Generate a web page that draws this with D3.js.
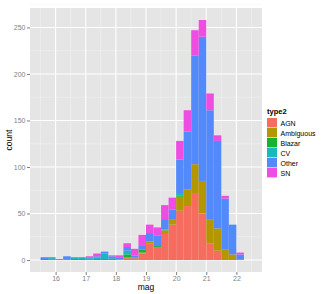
<!DOCTYPE html>
<html>
<head>
<meta charset="utf-8">
<script src="https://cdn.jsdelivr.net/npm/d3@7"></script>
<style>
  body { margin: 0; background: #fff; }
  text { font-family: "Liberation Sans", Arial, sans-serif; }
</style>
</head>
<body>
<div id="chart"></div>
<script>

/// Data

const types = ["AGN", "Ambiguous", "Blazar", "CV", "Other", "SN"];
const colors = ["#F66C5F", "#B39600", "#17B22E", "#18B9BE", "#5289FB", "#EE4DE2"];

// left edge of every 0.25 mag bin
const binStart = [15.5, 15.75, 16, 16.25, 16.5, 16.75, 17, 17.25, 17.5, 17.75,
  18, 18.25, 18.5, 18.75, 19, 19.25, 19.5, 19.75, 20, 20.25,
  20.5, 20.75, 21, 21.25, 21.5, 21.75, 22];
const binWidth = 0.25;

const agn       = [0, 0, 0, 0, 0, 0, 0, 0, 0, 0, 1, 2, 2, 7, 18, 14, 28, 38, 53, 58, 72, 50, 18, 10, 0, 0, 0];
const ambiguous = [0, 0, 0, 0, 0, 0, 0, 0, 0, 0, 0, 1, 0, 1, 2, 0, 4, 6, 15, 18, 31, 35, 26, 24, 11, 6, 1];
const blazar    = [1, 0, 0, 0, 1, 1, 0, 1, 1, 1, 0, 3, 0, 3, 0, 1, 0, 0, 1, 0, 0, 0, 0, 0, 0, 0, 0];
const cv        = [0, 2, 1, 1, 2, 2, 2, 2, 6, 1, 0, 4, 1, 0, 0, 0, 1, 0, 3, 0, 0, 0, 0, 0, 0, 0, 0];
const other     = [2, 1, 0, 3, 0, 0, 1, 1, 2, 2, 2, 4, 2, 5, 9, 11, 11, 10, 36, 62, 117, 155, 117, 94, 55, 32, 5];
const sn        = [0, 0, 0, 0, 0, 0, 1, 3, 0, 1, 2, 4, 7, 11, 9, 9, 15, 13, 20, 23, 27, 18, 18, 6, 3, 0, 2];

const xTicks = [16, 17, 18, 19, 20, 21, 22];
const yTicks = [0, 50, 100, 150, 200, 250];

/// Geometry
var width = 327, height = 294;
var panel = { left: 30, right: 262, top: 8, bottom: 272 };

var svg = d3.select("#chart").append("svg")
  .attr("width", width)
  .attr("height", height);

// table built from the arrays above
var rows = binStart.map(function (s, i) {
  return { x0: s, x1: s + binWidth, AGN: agn[i], Ambiguous: ambiguous[i], Blazar: blazar[i],
           CV: cv[i], Other: other[i], SN: sn[i] };
});
var stacked = d3.stack().keys(types)(rows);

var yMax = d3.max(rows, function (d) { return d3.sum(types, function (k) { return d[k]; }); });
var xMin = 15.5, xMax = 22.5;
var xPad = (xMax - xMin) * 0.05, yPad = yMax * 0.05;

var xScale = d3.scaleLinear().domain([xMin - xPad, xMax + xPad]).range([panel.left, panel.right]);
var yScale = d3.scaleLinear().domain([-yPad, yMax + yPad]).range([panel.bottom, panel.top]);
var colorScale = d3.scaleOrdinal().domain(types).range(colors);

// panel background
svg.append("rect")
  .attr("x", panel.left).attr("y", panel.top)
  .attr("width", panel.right - panel.left).attr("height", panel.bottom - panel.top)
  .attr("fill", "#E5E5E5");

// minor grid
var xMinor = xTicks.map(function (t) { return t - 0.5; }).concat([22.5]);
var yMinor = yTicks.map(function (t) { return t + 25; });
svg.append("g").selectAll("line").data(xMinor).join("line")
  .attr("x1", d => xScale(d)).attr("x2", d => xScale(d))
  .attr("y1", panel.top).attr("y2", panel.bottom)
  .attr("stroke", "#F2F2F2").attr("stroke-width", 0.6);
svg.append("g").selectAll("line").data(yMinor).join("line")
  .attr("y1", d => yScale(d)).attr("y2", d => yScale(d))
  .attr("x1", panel.left).attr("x2", panel.right)
  .attr("stroke", "#F2F2F2").attr("stroke-width", 0.6);

// major grid
svg.append("g").selectAll("line").data(xTicks).join("line")
  .attr("x1", d => xScale(d)).attr("x2", d => xScale(d))
  .attr("y1", panel.top).attr("y2", panel.bottom)
  .attr("stroke", "#fff").attr("stroke-width", 1.1);
svg.append("g").selectAll("line").data(yTicks).join("line")
  .attr("y1", d => yScale(d)).attr("y2", d => yScale(d))
  .attr("x1", panel.left).attr("x2", panel.right)
  .attr("stroke", "#fff").attr("stroke-width", 1.1);

// bars
svg.append("g").selectAll("g").data(stacked).join("g")
  .attr("fill", d => colorScale(d.key))
  .selectAll("rect").data(d => d).join("rect")
  .attr("x", d => xScale(d.data.x0))
  .attr("width", d => xScale(d.data.x1) - xScale(d.data.x0))
  .attr("y", d => yScale(d[1]))
  .attr("height", d => yScale(d[0]) - yScale(d[1]));

// axes
var xAxis = svg.append("g")
  .attr("transform", "translate(0," + panel.bottom + ")")
  .call(d3.axisBottom(xScale).tickValues(xTicks).tickSize(3).tickPadding(1.5));
var yAxis = svg.append("g")
  .attr("transform", "translate(" + panel.left + ",0)")
  .call(d3.axisLeft(yScale).tickValues(yTicks).tickSize(3).tickPadding(1.5));
[xAxis, yAxis].forEach(function (a) {
  a.select(".domain").remove();
  a.selectAll(".tick line").attr("stroke", "#7F7F7F");
  a.selectAll(".tick text").attr("fill", "#7F7F7F").attr("font-size", "7px")
    .attr("font-family", "Liberation Sans, Arial, sans-serif");
});

// axis titles
svg.append("text")
  .attr("x", (panel.left + panel.right) / 2).attr("y", 290)
  .attr("text-anchor", "middle").attr("font-size", "8.5px")
  .text("mag");
svg.append("text")
  .attr("transform", "translate(12," + ((panel.top + panel.bottom) / 2) + "),rotate(-90)")
  .attr("text-anchor", "middle").attr("font-size", "8.5px")
  .text("count");

// legend
var legend = svg.append("g").attr("transform", "translate(267,118)");
legend.append("text")
  .attr("x", 0).attr("y", -4)
  .attr("font-size", "7.5px").attr("font-weight", "bold")
  .text("type2");
var item = legend.selectAll("g.item").data(types).join("g")
  .attr("class", "item")
  .attr("transform", (d, i) => "translate(0," + (i * 10) + ")");
item.append("rect")
  .attr("width", 10).attr("height", 9.4)
  .attr("fill", d => colorScale(d));
item.append("text")
  .attr("x", 13.5).attr("y", 7.5)
  .attr("font-size", "7px")
  .text(d => d);

</script>
</body>
</html>
